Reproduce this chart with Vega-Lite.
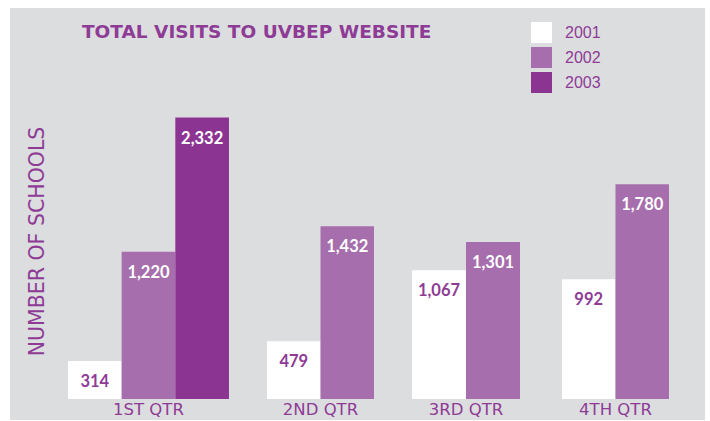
{
  "$schema": "https://vega.github.io/schema/vega-lite/v6.json",
  "background": "#ffffff",
  "padding": {"left": 10, "top": 8, "right": 5, "bottom": 1},
  "autosize": {"type": "pad"},
  "bounds": "flush",
  "spacing": 0,
  "title": {
    "text": "TOTAL VISITS TO UVBEP WEBSITE",
    "anchor": "start",
    "frame": "group",
    "orient": "top",
    "offset": -48,
    "baseline": "alphabetic",
    "dx": 72,
    "font": "DejaVu Sans",
    "fontSize": 18.5,
    "fontWeight": "bold",
    "color": "#8e3b96"
  },
  "datasets": {
    "visits": [
      {"quarter": "1ST QTR", "year": "2001", "value": 314},
      {"quarter": "1ST QTR", "year": "2002", "value": 1220},
      {"quarter": "1ST QTR", "year": "2003", "value": 2332},
      {"quarter": "2ND QTR", "year": "2001", "value": 479},
      {"quarter": "2ND QTR", "year": "2002", "value": 1432},
      {"quarter": "3RD QTR", "year": "2001", "value": 1067},
      {"quarter": "3RD QTR", "year": "2002", "value": 1301},
      {"quarter": "4TH QTR", "year": "2001", "value": 992},
      {"quarter": "4TH QTR", "year": "2002", "value": 1780}
    ]
  },
  "hconcat": [
    {
      "width": 238, "height": 412,
      "data": {"name": "visits"},
      "transform": [{"filter": "datum.quarter === '1ST QTR'"}],
      "encoding": {
        "x": {"field": "quarter", "type": "nominal", "scale": {"paddingInner": 0, "paddingOuter": 0.2391, "align": 0.753},
          "axis": {"title": null, "domain": false, "ticks": false, "tickSize": 0, "labelPadding": 0, "offset": -6, "labelBaseline": "alphabetic", "labelFont": "DejaVu Sans", "labelFontSize": 16.5, "labelColor": "#8e3b96", "labelAngle": 0}},
        "xOffset": {"field": "year", "type": "nominal", "scale": {"domain": ["2001", "2002", "2003"], "paddingInner": 0, "paddingOuter": 0}},
        "y": {"field": "value", "type": "quantitative", "scale": {"domain": [0, 3240], "range": [391, 0]},
          "axis": {"title": "NUMBER OF SCHOOLS", "labels": false, "ticks": false, "domain": false, "grid": false, "titleX": 33, "titleY": 233, "titleAngle": 270, "titleBaseline": "alphabetic", "titleAlign": "center", "titleFont": "DejaVu Sans", "titleFontSize": 20.5, "titleFontWeight": "normal", "titleColor": "#8e3b96"}}
      },
      "layer": [
        {"mark": {"type": "bar"},
         "encoding": {"color": {"field": "year", "type": "nominal",
           "scale": {"domain": ["2001", "2002", "2003"], "range": ["#ffffff", "#a66eac", "#8c3492"]},
           "legend": {"title": null, "orient": "none", "legendX": 521, "legendY": 14, "symbolType": "square", "symbolSize": 441, "symbolStrokeWidth": 0, "labelFont": "Liberation Sans", "labelFontSize": 16, "labelColor": "#8e3b96", "labelOffset": 13, "rowPadding": 4, "padding": 0}}}},
        {"mark": {"type": "text", "dy": 21, "baseline": "middle", "font": "Lato", "fontWeight": "bold", "fontSize": 16.5},
         "encoding": {"text": {"field": "value", "type": "quantitative", "format": ","},
           "color": {"condition": {"test": "datum.year === '2001'", "value": "#8e3b96"}, "value": "#ffffff"}}}
      ]
    },
    {
      "width": 145, "height": 412,
      "data": {"name": "visits"},
      "transform": [{"filter": "datum.quarter === '2ND QTR'"}],
      "encoding": {
        "x": {"field": "quarter", "type": "nominal", "scale": {"paddingInner": 0, "paddingOuter": 0.1776, "align": 0.5},
          "axis": {"title": null, "domain": false, "ticks": false, "tickSize": 0, "labelPadding": 0, "offset": -6, "labelBaseline": "alphabetic", "labelFont": "DejaVu Sans", "labelFontSize": 16.5, "labelColor": "#8e3b96", "labelAngle": 0}},
        "xOffset": {"field": "year", "type": "nominal", "scale": {"domain": ["2001", "2002"], "paddingInner": 0, "paddingOuter": 0}},
        "y": {"field": "value", "type": "quantitative", "scale": {"domain": [0, 3240], "range": [391, 0]}, "axis": null}
      },
      "layer": [
        {"mark": {"type": "bar"},
         "encoding": {"color": {"field": "year", "type": "nominal",
           "scale": {"domain": ["2001", "2002", "2003"], "range": ["#ffffff", "#a66eac", "#8c3492"]},
           "legend": {"title": null, "orient": "none", "legendX": 521, "legendY": 14, "symbolType": "square", "symbolSize": 441, "symbolStrokeWidth": 0, "labelFont": "Liberation Sans", "labelFontSize": 16, "labelColor": "#8e3b96", "labelOffset": 13, "rowPadding": 4, "padding": 0}}}},
        {"mark": {"type": "text", "dy": 21, "baseline": "middle", "font": "Lato", "fontWeight": "bold", "fontSize": 16.5},
         "encoding": {"text": {"field": "value", "type": "quantitative", "format": ","},
           "color": {"condition": {"test": "datum.year === '2001'", "value": "#8e3b96"}, "value": "#ffffff"}}}
      ]
    },
    {
      "width": 148, "height": 412,
      "data": {"name": "visits"},
      "transform": [{"filter": "datum.quarter === '3RD QTR'"}],
      "encoding": {
        "x": {"field": "quarter", "type": "nominal", "scale": {"paddingInner": 0, "paddingOuter": 0.1852, "align": 0.475},
          "axis": {"title": null, "domain": false, "ticks": false, "tickSize": 0, "labelPadding": 0, "offset": -6, "labelBaseline": "alphabetic", "labelFont": "DejaVu Sans", "labelFontSize": 16.5, "labelColor": "#8e3b96", "labelAngle": 0}},
        "xOffset": {"field": "year", "type": "nominal", "scale": {"domain": ["2001", "2002"], "paddingInner": 0, "paddingOuter": 0}},
        "y": {"field": "value", "type": "quantitative", "scale": {"domain": [0, 3240], "range": [391, 0]}, "axis": null}
      },
      "layer": [
        {"mark": {"type": "bar"},
         "encoding": {"color": {"field": "year", "type": "nominal",
           "scale": {"domain": ["2001", "2002", "2003"], "range": ["#ffffff", "#a66eac", "#8c3492"]},
           "legend": {"title": null, "orient": "none", "legendX": 521, "legendY": 14, "symbolType": "square", "symbolSize": 441, "symbolStrokeWidth": 0, "labelFont": "Liberation Sans", "labelFontSize": 16, "labelColor": "#8e3b96", "labelOffset": 13, "rowPadding": 4, "padding": 0}}}},
        {"mark": {"type": "text", "dy": 21, "baseline": "middle", "font": "Lato", "fontWeight": "bold", "fontSize": 16.5},
         "encoding": {"text": {"field": "value", "type": "quantitative", "format": ","},
           "color": {"condition": {"test": "datum.year === '2001'", "value": "#8e3b96"}, "value": "#ffffff"}}}
      ]
    },
    {
      "width": 164, "height": 412,
      "data": {"name": "visits"},
      "transform": [{"filter": "datum.quarter === '4TH QTR'"}],
      "encoding": {
        "x": {"field": "quarter", "type": "nominal", "scale": {"paddingInner": 0, "paddingOuter": 0.2664, "align": 0.368},
          "axis": {"title": null, "domain": false, "ticks": false, "tickSize": 0, "labelPadding": 0, "offset": -6, "labelBaseline": "alphabetic", "labelFont": "DejaVu Sans", "labelFontSize": 16.5, "labelColor": "#8e3b96", "labelAngle": 0}},
        "xOffset": {"field": "year", "type": "nominal", "scale": {"domain": ["2001", "2002"], "paddingInner": 0, "paddingOuter": 0}},
        "y": {"field": "value", "type": "quantitative", "scale": {"domain": [0, 3240], "range": [391, 0]}, "axis": null}
      },
      "layer": [
        {"mark": {"type": "bar"},
         "encoding": {"color": {"field": "year", "type": "nominal",
           "scale": {"domain": ["2001", "2002", "2003"], "range": ["#ffffff", "#a66eac", "#8c3492"]},
           "legend": {"title": null, "orient": "none", "legendX": 521, "legendY": 14, "symbolType": "square", "symbolSize": 441, "symbolStrokeWidth": 0, "labelFont": "Liberation Sans", "labelFontSize": 16, "labelColor": "#8e3b96", "labelOffset": 13, "rowPadding": 4, "padding": 0}}}},
        {"mark": {"type": "text", "dy": 21, "baseline": "middle", "font": "Lato", "fontWeight": "bold", "fontSize": 16.5},
         "encoding": {"text": {"field": "value", "type": "quantitative", "format": ","},
           "color": {"condition": {"test": "datum.year === '2001'", "value": "#8e3b96"}, "value": "#ffffff"}}}
      ]
    }
  ],
  "resolve": {
    "scale": {"x": "independent", "xOffset": "independent", "y": "independent", "color": "shared"},
    "axis": {"x": "independent", "y": "independent"},
    "legend": {"color": "shared"}
  },
  "config": {
    "view": {"stroke": null, "fill": "#dcdddf"},
    "axis": {"grid": false}
  }
}
